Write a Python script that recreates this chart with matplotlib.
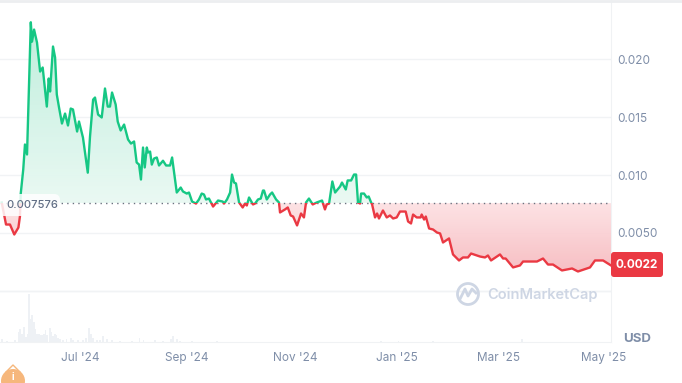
import numpy as np
import matplotlib
matplotlib.use('Agg')
import matplotlib.pyplot as plt
from matplotlib.colors import LinearSegmentedColormap
from matplotlib.patches import Circle, FancyBboxPatch
from matplotlib.path import Path

plt.rcParams['font.family'] = ['Inter', 'DejaVu Sans']

# days since 1 Jul 2024
days = [-45.5, -43, -40.7, -38.2, -35.8, -34.9, -34.5, -33, -32, -30.8, -28.6, -27.9, -26.7, -25, -23.2, -21.7,
        -19.3, -18.2, -17.4, -15.7, -14.5, -13.5, -12.2, -10.5, -8.7, -7, -5.4, -4.1, -1.7, -0.6, 1.7, 4.5,
        5.8, 7.6, 8.7, 10.5, 12.6, 14.5, 16.1, 17.4, 18.6, 20.7, 21.9, 23.6, 25.6, 27.9, 29.6, 31.4,
        32.9, 34.3, 35.4, 36.6, 37.6, 38.8, 39.5, 40.7, 41.7, 43, 44.6, 45.9, 48.2, 50, 52.3, 53.5,
        56.2, 58.5, 59.8, 62, 63.3, 65.1, 67.4, 69.1, 70.7, 72, 73.2, 74.9, 77.3, 80.2, 82.9, 83.7,
        85.4, 87.2, 88.3, 89.5, 90.6, 92.4, 94.5, 95.9, 96.9, 98.2, 100.5, 101.7, 103.4, 105, 106.3, 106.9,
        108.5, 110.4, 111.6, 113.9, 115.6, 116.2, 119.1, 120.7, 122.4, 123.8, 126.1, 128.4, 130.1, 131.3, 133, 135.2,
        137.5, 138.9, 140.6, 142.3, 143.3, 144.7, 146.6, 148.2, 151.1, 152.2, 154.4, 155.5, 157.5, 159.2, 160.4, 161.5,
        162.7, 163.3, 165, 166.6, 167.7, 168.9, 169.7, 171.4, 172.6, 173.7, 176, 178.2, 180.1, 181.9, 184, 185.9,
        189.2, 190.6, 192.3, 193.5, 195.6, 197.9, 198.5, 199.9, 200.9, 202.8, 205.1, 207.4, 209.2, 210.9, 214.4, 216.7,
        220.2, 222.5, 225.4, 227.2, 232.4, 235.3, 237, 238.8, 244, 245.8, 247.3, 251.6, 255.6, 257.4, 265.5, 269,
        271.9, 274.8, 280, 285.9, 289.3, 296.3, 299.2, 303.9, 308.5]
# price in units of 0.0001 USD
price = [76.3, 57.3, 57.3, 48.7, 54.7, 64.5, 83.2, 104.7, 126.3, 117.7, 231.7, 215, 225.4, 214.2, 189.2, 192.7,
         159, 183.2, 172, 210.8, 201.3, 169.4, 158.2, 144.4, 153, 142.7, 157.3, 156.5, 137.5, 146.1, 132.3, 102,
         133.2, 165, 166.8, 152.1, 149.6, 174.6, 159, 159, 171.1, 160.8, 146.1, 138.4, 143.5, 130.6, 127.1, 128.9,
         110.8, 109, 96.1, 123.7, 106.5, 123.7, 119.4, 120.2, 109, 114.2, 115.1, 108.2, 112.3, 108.2, 108.2, 115.1,
         84.9, 89.2, 85.8, 84, 84.9, 77.1, 75.4, 78.9, 84, 83.2, 78.9, 79.7, 72.8, 78, 77.1, 75.4,
         78.9, 84.9, 100.4, 93.5, 92.7, 76.3, 72, 75.4, 73.7, 80.6, 74.6, 75.4, 78.9, 79.7, 86.6, 86.6,
         78.9, 83.2, 84.9, 78.9, 76.3, 67.7, 70.3, 72, 65.1, 64.2, 56.5, 66.8, 63.4, 76.3, 79.7, 74.6,
         76.3, 77.1, 78, 70.3, 74.6, 75.4, 94.4, 84.9, 90.1, 93.5, 87.5, 95.3, 95.3, 100.4, 100.4, 76.3,
         75.4, 84, 84, 80.6, 81.5, 77.1, 74.6, 63.4, 66.8, 62.5, 69.4, 63.4, 65.1, 62.5, 63.4, 68.5,
         68.5, 59.9, 58.2, 65.9, 63.4, 63.4, 65.9, 61.6, 64.2, 53.9, 53, 50.4, 49.6, 41.8, 45.3, 31.5,
         26.3, 28.9, 28.9, 32.3, 29.7, 28.9, 30.6, 26.3, 31.5, 28, 28, 20.3, 22, 25.4, 25.4, 28,
         22.8, 22.8, 17.7, 19.4, 16.8, 20.3, 26.3, 26.3, 22]
vol_days = [-45.5, -42.6, -37.8, -35.8, -34.9, -33.9, -32.6, -31.4, -30.6, -29.6, -28.7, -27.7, -26.7, -25.8,
            -24.8, -23.8, -22.9, -21.9, -20.9, -20, -19, -17.4, -16.5, -15.5, -14.5, -13.6, -12.6, -11.6,
            -9.7, -7.8, -5.4, -3.9, -1, 1.9, 3.5, 5.4, 6.4, 7.7, 9.7, 11.6, 13.5, 15.5, 18.4, 23.2,
            30, 34.5, 36.8, 43.6, 48.4, 52.7, 54.2, 56.2, 58.1, 64.9, 79.4, 175, 185, 205, 256.7]
volume = [3.3, 1, 1.7, 10, 13.3, 8.3, 15, 5, 8.3, 48, 23.3, 26.7, 20, 13.3,
          8.3, 8.3, 7.3, 7.3, 8.3, 11.7, 6.7, 14, 10, 6, 8.3, 7.3, 4, 3.3,
          2, 2.7, 4, 2, 1.7, 2, 4, 14, 8.3, 4, 2, 1.7, 5.7, 2.7, 2, 1,
          1, 4, 2, 1.7, 1.3, 2.7, 5.7, 2.7, 1.3, 0.7, 0.7, 1, 1, 1, 3]

ytick_vals = [0.005, 0.010, 0.015, 0.020]
ytick_labels = ['0.0050', '0.010', '0.015', '0.020']
xtick_days = [0, 62, 125, 184, 243, 304]
xtick_labels = ["Jul '24", "Sep '24", "Nov '24", "Jan '25", "Mar '25", "May '25"]
base_price = 0.007576
last_price = 0.0022

GREEN = '#16c784'
RED = '#ea3943'
GRID = '#f1f3f5'
TICK = '#7f8ea8'

d = np.array(days)
p = np.array(price) / 10000

W, H = 682, 383
fig = plt.figure(figsize=(W / 100, H / 100), dpi=100)
rect = [0, (H - 342) / H, 611 / W, 342 / H]
ax = fig.add_axes(rect)
xlim = (-46.5, 308.5)
ylim = (-0.0044, 0.02509)

# volume under the price
vax = fig.add_axes(rect, zorder=0)
vax.bar(vol_days, volume, width=1.0, color='#eef1f5', linewidth=0)
vax.set_xlim(xlim)
vax.set_ylim(0, 342)
vax.axis('off')

ax.set_zorder(1)
ax.patch.set_alpha(0)
ax.set_xlim(xlim)
ax.set_ylim(ylim)
ax.grid(axis='y', color=GRID, lw=1)
ax.axhline(0, color=GRID, lw=1, zorder=0)
ax.set_axisbelow(True)


def gradient_fill(where, colors, y0, y1):
    poly = ax.fill_between(d, base_price, p, where=where, interpolate=True, color='none', lw=0)
    path = Path.make_compound_path(*poly.get_paths())
    cmap = LinearSegmentedColormap.from_list('g', colors)
    im = ax.imshow(np.linspace(0, 1, 128).reshape(-1, 1), cmap=cmap, aspect='auto', origin='lower',
                   extent=(xlim[0], xlim[1], y0, y1), zorder=1, alpha=0.95)
    im.set_clip_path(path, transform=ax.transData)
    ax.set_xlim(xlim)
    ax.set_ylim(ylim)


gradient_fill(p >= base_price, ['#e9f9f3', '#bdeedb'], base_price, p.max())
gradient_fill(p <= base_price, ['#f7bcc1', '#fde2e4'], p.min(), base_price)

# line: same series, one colour each side of the baseline
green_line, = ax.plot(d, p, color=GREEN, lw=1.7, zorder=3, solid_joinstyle='round')
red_line, = ax.plot(d, p, color=RED, lw=1.7, zorder=3, solid_joinstyle='round')
green_line.set_clip_path(plt.Rectangle((xlim[0], base_price), xlim[1] - xlim[0], ylim[1] - base_price,
                                       transform=ax.transData))
red_line.set_clip_path(plt.Rectangle((xlim[0], ylim[0]), xlim[1] - xlim[0], base_price - ylim[0],
                                     transform=ax.transData))
ax.axhline(base_price, color='#6b7280', lw=1, ls=(0, (1, 3)), zorder=2)

for s in ['top', 'left']:
    ax.spines[s].set_visible(False)
ax.spines['right'].set_color('#f0f2f4')
ax.spines['bottom'].set_color('#f0f2f4')

ax.set_xticks(xtick_days)
ax.set_xticklabels(xtick_labels)
ax.set_yticks(ytick_vals + [0])
ax.set_yticklabels(ytick_labels + [''])
ax.yaxis.tick_right()
ax.tick_params(axis='both', length=0, labelsize=8.5, labelcolor=TICK)
ax.tick_params(axis='x', pad=7)
ax.tick_params(axis='y', pad=4.5)

# overlays placed in figure pixels
ov = fig.add_axes([0, 0, 1, 1], zorder=5)
ov.set_xlim(0, W)
ov.set_ylim(H, 0)
ov.axis('off')
ov.plot([0, W], [0.5, 0.5], color='#eceef0', lw=2)

ov.add_patch(FancyBboxPatch((-8, 194), 68, 22, boxstyle='round,pad=0,rounding_size=6', fc='white', ec='none', alpha=0.85))
ov.text(6, 205, '0.007576', color='#616e85', fontsize=8, fontweight='medium', va='center', ha='left')

ov.add_patch(FancyBboxPatch((611, 252), 52, 25, boxstyle='round,pad=0,rounding_size=3', fc=RED, ec='none'))
ov.text(637, 265, f'{last_price:.4f}', color='white', fontsize=8.5, fontweight='bold', va='center', ha='center')
ov.text(637, 339, 'USD', color=TICK, fontsize=9.5, fontweight='bold', va='center', ha='center')

# watermark
ov.add_patch(Circle((468, 294), 10.5, fc='none', ec='#ced6e4', lw=2))
ov.plot([460, 465, 468, 472, 476], [299, 289, 296, 289, 293], color='#ced6e4', lw=2)
ov.text(487, 295, 'CoinMarketCap', color='#ced6e4', fontsize=10.5, fontweight='semibold', va='center', ha='left')

# info badge
ov.add_patch(Circle((13, 381), 12, fc='#f6b77c', ec='none'))
ov.plot([6, 13, 20], [372, 365, 372], color='#f6b77c', lw=1)
ov.text(13, 377, 'i', color='white', fontsize=7, fontweight='bold', va='center', ha='center')

fig.savefig('out.png', dpi=100)
